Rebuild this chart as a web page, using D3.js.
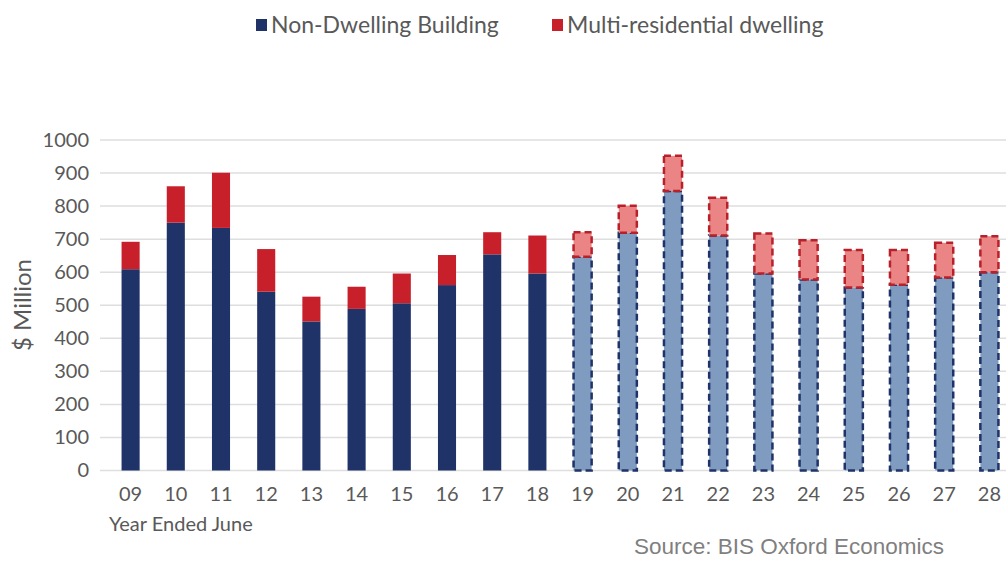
<!DOCTYPE html>
<html><head><meta charset="utf-8">
<script src="https://cdn.jsdelivr.net/npm/d3@7"></script>
<style>body{margin:0;background:#fff}svg{display:block}</style>
</head><body>
<svg id="c" width="1006" height="563"></svg>
<script>
const years = ["09","10","11","12","13","14","15","16","17","18","19","20","21","22","23","24","25","26","27","28"];
const nonDwelling = [609,750,734,541,451,489,506,561,654,596,647,719,846,711,596,578,554,562,584,600];
const multiRes   = [83,110,167,129,75,67,90,91,67,115,74,82,106,114,121,119,113,105,105,109];
const forecastFrom = "19";
const yTicks = [0,100,200,300,400,500,600,700,800,900,1000];
const seriesNames = ["Non-Dwelling Building","Multi-residential dwelling"];

const svg = d3.select("#c");
const font = "Lato, 'Open Sans', sans-serif";
const x = d3.scaleBand().domain(years).range([108,1012]).paddingInner(0.6).paddingOuter(0.3);
const y = d3.scaleLinear().domain([0,1000]).range([470.5,140]);

// gridlines
svg.append("g").selectAll("line").data(yTicks).join("line")
  .attr("x1",100).attr("x2",1006).attr("y1",d=>y(d)).attr("y2",d=>y(d))
  .attr("stroke","#dedede").attr("stroke-width",1.5);

// y axis labels
const ya = svg.append("g").attr("transform","translate(89,0)")
  .call(d3.axisLeft(y).tickValues(yTicks).tickFormat(d3.format("d")).tickSize(0).tickPadding(0));
ya.select(".domain").remove();
ya.selectAll("text").attr("font-family",font).attr("font-size",20).attr("fill","#595959");

// x axis labels
const xa = svg.append("g").attr("transform","translate(0,487)")
  .call(d3.axisBottom(x).tickSize(0).tickPadding(0));
xa.select(".domain").remove();
xa.selectAll("text").attr("font-family",font).attr("font-size",20).attr("fill","#595959").attr("dy","0.71em");

const isF = d => +d >= +forecastFrom;
const bw = x.bandwidth();
const data = years.map((yr,i)=>({yr, a:nonDwelling[i], b:multiRes[i]}));

const g = svg.append("g");
// non-dwelling
g.selectAll("rect.a").data(data).join("rect").attr("class","a")
  .attr("x",d=>x(d.yr)).attr("width",bw)
  .attr("y",d=>y(d.a)).attr("height",d=>y(0)-y(d.a))
  .attr("fill",d=>isF(d.yr)?"#7f9cc0":"#1f3368")
  .attr("stroke",d=>isF(d.yr)?"#1f3368":"none")
  .attr("stroke-width",2.5).attr("stroke-dasharray",d=>isF(d.yr)?"7,4":null);
// multi-res
g.selectAll("rect.b").data(data).join("rect").attr("class","b")
  .attr("x",d=>x(d.yr)).attr("width",bw)
  .attr("y",d=>y(d.a+d.b)).attr("height",d=>y(d.a)-y(d.a+d.b))
  .attr("fill",d=>isF(d.yr)?"#eb8585":"#c8202a")
  .attr("stroke",d=>isF(d.yr)?"#b8202a":"none")
  .attr("stroke-width",2.5).attr("stroke-dasharray",d=>isF(d.yr)?"7,4":null);

// y title
svg.append("text").attr("transform","translate(31,305) rotate(-90)")
  .attr("text-anchor","middle").attr("font-family",font).attr("font-size",24)
  .attr("fill","#595959").text("$ Million");
// x title
svg.append("text").attr("x",109).attr("y",531).attr("font-family",font).attr("font-size",20)
  .attr("fill","#595959").text("Year Ended June");
// source
svg.append("text").attr("x",944).attr("y",554).attr("text-anchor","end")
  .attr("font-family","'Liberation Sans', Arial, sans-serif").attr("font-size",22.5)
  .attr("fill","#7f7f7f").text("Source: BIS Oxford Economics");

// legend
const leg = [{n:seriesNames[0],c:"#1f3368",x:256},{n:seriesNames[1],c:"#c8202a",x:552}];
const lg = svg.append("g").selectAll("g").data(leg).join("g").attr("transform",d=>`translate(${d.x},0)`);
lg.append("rect").attr("x",0).attr("y",19).attr("width",11).attr("height",12).attr("fill",d=>d.c);
lg.append("text").attr("x",15).attr("y",33).attr("font-family",font).attr("font-size",23)
  .attr("fill","#595959").text(d=>d.n);
</script>
</body></html>
